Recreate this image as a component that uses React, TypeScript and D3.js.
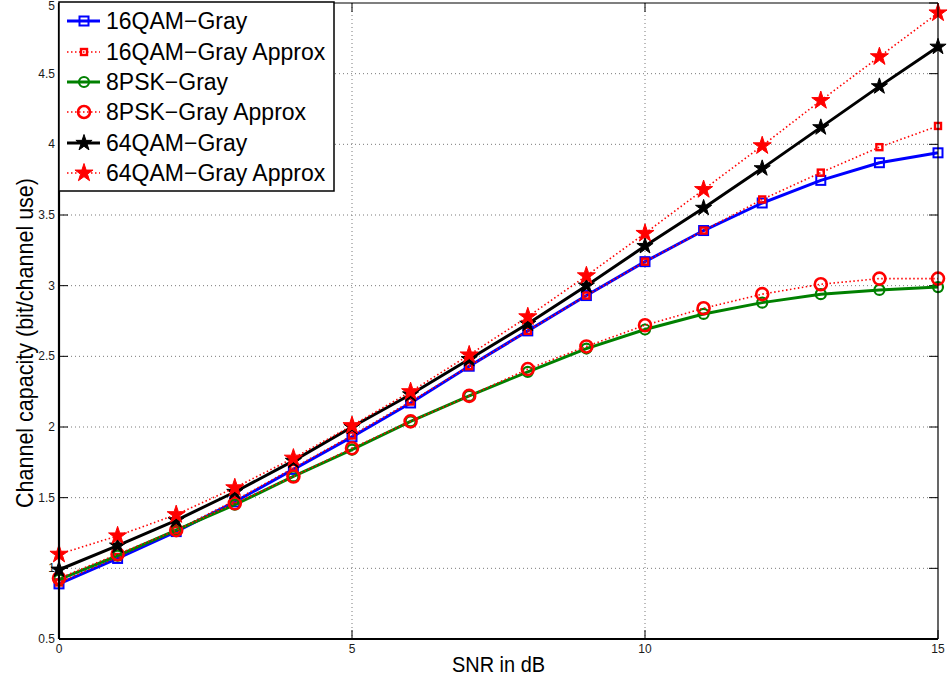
import React from "react";
import * as d3 from "d3";

// SNR grid (dB)
const snrDb = [0, 1, 2, 3, 4, 5, 6, 7, 8, 9, 10, 11, 12, 13, 14, 15];

// Capacity values (bit/channel use)
const qam16Gray = [0.89, 1.07, 1.26, 1.47, 1.7, 1.93, 2.17, 2.43, 2.68, 2.93, 3.17, 3.39, 3.585, 3.745, 3.87, 3.94];
const qam16Approx = [0.9, 1.08, 1.27, 1.48, 1.71, 1.94, 2.18, 2.43, 2.68, 2.93, 3.17, 3.39, 3.61, 3.8, 3.98, 4.13];
const psk8Gray = [0.92, 1.09, 1.27, 1.45, 1.65, 1.84, 2.04, 2.22, 2.39, 2.555, 2.69, 2.8, 2.88, 2.94, 2.97, 2.99];
const psk8Approx = [0.93, 1.1, 1.27, 1.46, 1.65, 1.85, 2.04, 2.22, 2.41, 2.57, 2.72, 2.84, 2.94, 3.01, 3.05, 3.05];
const qam64Gray = [0.99, 1.16, 1.34, 1.54, 1.76, 2.0, 2.23, 2.48, 2.73, 3.0, 3.28, 3.55, 3.83, 4.12, 4.41, 4.69];
const qam64Approx = [1.1, 1.23, 1.38, 1.57, 1.78, 2.01, 2.25, 2.51, 2.78, 3.07, 3.37, 3.68, 3.99, 4.31, 4.62, 4.93];

const seriesNames = [
  "16QAM\u2212Gray",
  "16QAM\u2212Gray Approx",
  "8PSK\u2212Gray",
  "8PSK\u2212Gray Approx",
  "64QAM\u2212Gray",
  "64QAM\u2212Gray Approx",
];

const xTicks = [0, 5, 10, 15];
const yTicks = [0.5, 1, 1.5, 2, 2.5, 3, 3.5, 4, 4.5, 5];
const yTickLabels = ["0.5", "1", "1.5", "2", "2.5", "3", "3.5", "4", "4.5", "5"];

type MarkerKind = "square" | "circle" | "star";

interface SeriesStyle {
  color: string;
  width: number;
  dash?: string;
  marker: MarkerKind;
  size: number;
  fill: string;
  mStroke: number;
}

const styles: SeriesStyle[] = [
  { color: "#0000ff", width: 3, marker: "square", size: 9, fill: "none", mStroke: 2 },
  { color: "#ff0000", width: 1.6, dash: "1.5,2.5", marker: "square", size: 6, fill: "none", mStroke: 2.4 },
  { color: "#008000", width: 3, marker: "circle", size: 10, fill: "none", mStroke: 2.2 },
  { color: "#ff0000", width: 1.6, dash: "1.5,2.5", marker: "circle", size: 12, fill: "none", mStroke: 2.6 },
  { color: "#000000", width: 3, marker: "star", size: 17, fill: "#000000", mStroke: 1 },
  { color: "#ff0000", width: 1.6, dash: "1.5,2.5", marker: "star", size: 19, fill: "#ff0000", mStroke: 1 },
];

const seriesValues = [qam16Gray, qam16Approx, psk8Gray, psk8Approx, qam64Gray, qam64Approx];

const FONT = "'Liberation Sans', Arial, Helvetica, sans-serif";

function Marker({ kind, cx, cy, s, color, fill, sw }: { kind: MarkerKind; cx: number; cy: number; s: number; color: string; fill: string; sw: number }) {
  if (kind === "square") {
    return <rect x={cx - s / 2} y={cy - s / 2} width={s} height={s} fill={fill} stroke={color} strokeWidth={sw} />;
  }
  if (kind === "circle") {
    return <circle cx={cx} cy={cy} r={s / 2} fill={fill} stroke={color} strokeWidth={sw} />;
  }
  // five-point star: outer diameter s
  const r = s / 2;
  const area = (r * r) / 0.8908130915292852;
  const d = d3.symbol(d3.symbolStar, area)() || "";
  return <path d={d} transform={`translate(${cx},${cy})`} fill={fill} stroke={color} strokeWidth={sw} strokeLinejoin="miter" />;
}

export default function App() {
  const W = 950;
  const H = 684;
  const x0 = 59, x1 = 938, yTop = 3, yBot = 639;
  const x = d3.scaleLinear().domain([0, 15]).range([x0, x1]);
  const y = d3.scaleLinear().domain([0.5, 5]).range([yBot, yTop]);

  const line = d3
    .line<number>()
    .x((_, i) => x(snrDb[i]))
    .y((v) => y(v));

  const tickLen = 9;

  const legendX0 = 59, legendY0 = 2, legendX1 = 334, legendY1 = 191;
  const rowY = [21, 52, 82, 112, 143, 173];

  return (
    <svg
      width={W}
      height={H}
      viewBox={`0 0 ${W} ${H}`}
      style={{ position: "absolute", left: 0, top: 0, display: "block", background: "#fff" }}
      fontFamily={FONT}
    >
      <rect x={0} y={0} width={W} height={H} fill="#fff" />

      {/* grid */}
      <g stroke="#7a7a7a" strokeWidth={1} strokeDasharray="1,3">
        {xTicks.slice(1, -1).map((t) => (
          <line key={"gx" + t} x1={x(t)} x2={x(t)} y1={yTop} y2={yBot} />
        ))}
        {yTicks.slice(1, -1).map((t) => (
          <line key={"gy" + t} x1={x0} x2={x1} y1={y(t)} y2={y(t)} />
        ))}
      </g>

      {/* tick marks */}
      <g stroke="#000" strokeWidth={1}>
        {xTicks.map((t) => (
          <g key={"tx" + t}>
            <line x1={x(t)} x2={x(t)} y1={yBot} y2={yBot - tickLen} />
            <line x1={x(t)} x2={x(t)} y1={yTop} y2={yTop + tickLen} />
          </g>
        ))}
        {yTicks.map((t) => (
          <g key={"ty" + t}>
            <line x1={x0} x2={x0 + tickLen} y1={y(t)} y2={y(t)} />
            <line x1={x1} x2={x1 - tickLen} y1={y(t)} y2={y(t)} />
          </g>
        ))}
      </g>

      {/* tick labels */}
      <g fontSize={12} fill="#1a1a1a">
        {xTicks.map((t) => (
          <text key={"lx" + t} x={x(t)} y={yBot + 14} textAnchor="middle">
            {t}
          </text>
        ))}
        {yTicks.map((t, i) => (
          <text key={"ly" + t} x={x0 - 4} y={Math.max(y(t) + 4, 10)} textAnchor="end">
            {yTickLabels[i]}
          </text>
        ))}
      </g>

      {/* series */}
      {seriesValues.map((vals, si) => {
        const st = styles[si];
        return (
          <g key={"s" + si}>
            <path
              d={line(vals) || ""}
              fill="none"
              stroke={st.color}
              strokeWidth={st.width}
              strokeDasharray={st.dash}
              strokeLinejoin="round"
            />
            {vals.map((v, i) => (
              <Marker
                key={i}
                kind={st.marker}
                cx={x(snrDb[i])}
                cy={y(v)}
                s={st.size}
                color={st.color}
                fill={st.fill}
                sw={st.mStroke}
              />
            ))}
          </g>
        );
      })}

      {/* axes frame */}
      <line x1={x0} x2={x1} y1={yTop} y2={yTop} stroke="#000" strokeWidth={1.2} />
      <line x1={x1} x2={x1} y1={yTop} y2={yBot} stroke="#000" strokeWidth={1.2} />
      <line x1={x0} x2={x1} y1={yBot} y2={yBot} stroke="#000" strokeWidth={2.2} />
      <line x1={x0} x2={x0} y1={yTop} y2={yBot} stroke="#000" strokeWidth={2.2} />

      {/* axis titles */}
      <text
        x={(x0 + x1) / 2}
        y={672}
        textAnchor="middle"
        fontSize={22}
        textLength={93}
        lengthAdjust="spacingAndGlyphs"
      >
        SNR in dB
      </text>
      <text
        transform={`translate(33,343) rotate(-90)`}
        textAnchor="middle"
        fontSize={24}
        textLength={330}
        lengthAdjust="spacingAndGlyphs"
      >
        Channel capacity (bit/channel use)
      </text>

      {/* legend */}
      <g>
        <rect
          x={legendX0}
          y={legendY0}
          width={legendX1 - legendX0}
          height={legendY1 - legendY0}
          fill="#fff"
          stroke="#000"
          strokeWidth={1.5}
        />
        {seriesNames.map((name, i) => {
          const st = styles[i];
          const cy = rowY[i];
          return (
            <g key={"lg" + i}>
              <line x1={67} x2={100} y1={cy} y2={cy} stroke={st.color} strokeWidth={st.width} strokeDasharray={st.dash} />
              <Marker kind={st.marker} cx={84} cy={cy} s={st.size} color={st.color} fill={st.fill} sw={st.mStroke} />
              <text x={106} y={cy + 8} fontSize={23} fill="#000">
                {name}
              </text>
            </g>
          );
        })}
      </g>
    </svg>
  );
}
